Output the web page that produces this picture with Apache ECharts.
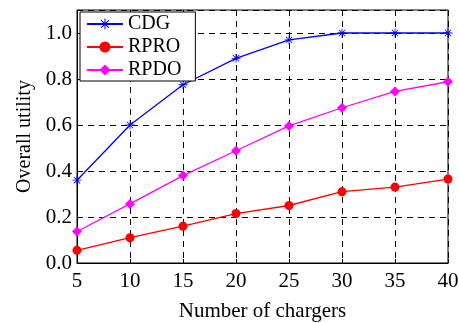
<!DOCTYPE html>
<html>
<head>
<meta charset="utf-8">
<script src="https://cdn.jsdelivr.net/npm/echarts@6/dist/echarts.min.js"></script>
<style>html,body{margin:0;padding:0;background:#fff}#c{width:459px;height:323px}</style>
</head>
<body>
<div id="c"></div>
<script>
const chargers = [5, 10, 15, 20, 25, 30, 35, 40];
const cdg  = [0.36, 0.60, 0.775, 0.89, 0.97, 1.0, 1.0, 1.0];
const rpro = [0.055, 0.11, 0.16, 0.215, 0.25, 0.31, 0.33, 0.365];
const rpdo = [0.137, 0.257, 0.38, 0.488, 0.596, 0.675, 0.746, 0.788];
const yTicks = [0, 0.2, 0.4, 0.6, 0.8, 1.0];

const font = 'Liberation Serif';
const star = 'path://M-0.9,-10L0.9,-10L0.9,10L-0.9,10ZM-10,-0.9L10,-0.9L10,0.9L-10,0.9ZM-7.7,-6.4L-6.4,-7.7L7.7,6.4L6.4,7.7ZM6.4,-7.7L7.7,-6.4L-6.4,7.7L-7.7,6.4Z';

function pairs(ys) { return chargers.map((x, i) => [x, ys[i]]); }

const chart = echarts.init(document.getElementById('c'));
chart.setOption({
  animation: false,
  backgroundColor: '#fff',
  textStyle: { fontFamily: font },
  grid: { left: 77, right: 11, top: 10, bottom: 60, show: true, borderColor: '#000', borderWidth: 1,
    outerBoundsMode: 'none', containLabel: false },
  legend: {
    orient: 'vertical', left: 80, top: 12,
    backgroundColor: '#fff', borderColor: '#000', borderWidth: 1,
    padding: [2, 14, 1, 6], itemGap: 3, itemWidth: 36, itemHeight: 14,
    textStyle: { fontFamily: font, fontSize: 20, color: '#000' },
    data: ['CDG', 'RPRO', 'RPDO']
  },
  xAxis: {
    type: 'value', min: 5, max: 40, interval: 5,
    name: 'Number of chargers', nameLocation: 'middle', nameGap: 38,
    nameTextStyle: { fontFamily: font, fontSize: 21, color: '#000' },
    axisLine: { lineStyle: { color: '#000' } },
    axisTick: { inside: true, length: 4, lineStyle: { color: '#000' } },
    axisLabel: { fontFamily: font, fontSize: 21, color: '#000', margin: 8 },
    splitLine: { show: true, lineStyle: { color: '#000', type: [6, 5], width: 1 } }
  },
  yAxis: {
    type: 'value', min: 0, max: 1.1, interval: 0.2,
    name: 'Overall utility', nameLocation: 'middle', nameGap: 42,
    nameTextStyle: { fontFamily: font, fontSize: 20, color: '#000' },
    axisLine: { lineStyle: { color: '#000' } },
    axisTick: { inside: true, length: 4, lineStyle: { color: '#000' } },
    axisLabel: { fontFamily: font, fontSize: 21, color: '#000', margin: 5, showMaxLabel: false,
      formatter: v => yTicks.some(t => Math.abs(t - v) < 1e-9) ? v.toFixed(1) : '' },
    splitLine: { show: true, lineStyle: { color: '#000', type: [6, 5], width: 1 } }
  },
  series: [
    { name: 'CDG', type: 'line', data: pairs(cdg), symbol: star, symbolSize: 9,
      lineStyle: { color: '#0000ff', width: 1.3 }, itemStyle: { color: '#0000ff' } },
    { name: 'RPRO', type: 'line', data: pairs(rpro), symbol: 'circle', symbolSize: 9,
      lineStyle: { color: '#ff0000', width: 1.3 }, itemStyle: { color: '#ff0000' } },
    { name: 'RPDO', type: 'line', data: pairs(rpdo), symbol: 'diamond', symbolSize: 10,
      lineStyle: { color: '#ff00ff', width: 1.3 }, itemStyle: { color: '#ff00ff' } }
  ]
});
</script>
</body>
</html>
